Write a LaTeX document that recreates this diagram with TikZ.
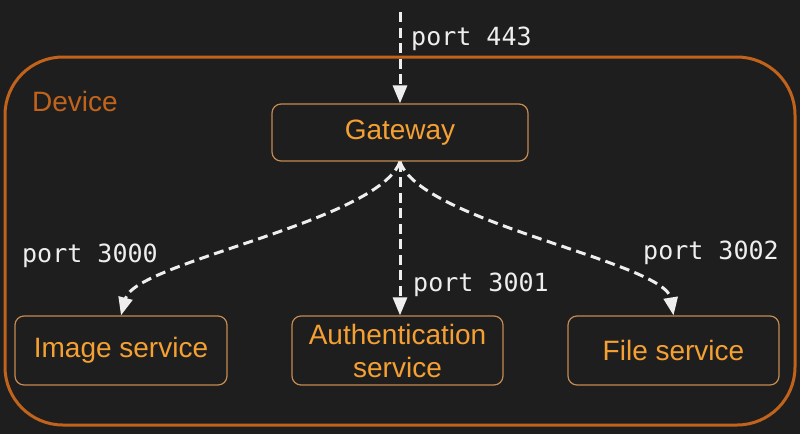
\documentclass[tikz,border=0pt]{standalone}
\usepackage{fontspec}
\setmainfont{Liberation Sans}
\newfontfamily\monofont{DejaVu Sans Mono}
\usetikzlibrary{arrows.meta}
\definecolor{bg}{HTML}{1E1E1E}
\definecolor{devcol}{HTML}{C2631C}
\definecolor{boxcol}{HTML}{C48A50}
\definecolor{txtcol}{HTML}{F5A033}
\definecolor{linecol}{HTML}{EEEEEE}
\tikzset{
  svcbox/.style={draw=boxcol, line width=1.2pt, rounded corners=9pt, text=txtcol,
    font=\fontsize{28}{33}\selectfont, align=center, inner sep=0pt},
  conn/.style={draw=linecol, line width=3pt, dash pattern=on 10pt off 5.5pt,
    -{Triangle[length=18pt,width=14pt]}},
  portlbl/.style={text=linecol, font=\monofont\fontsize{25}{28}\selectfont, inner sep=0pt, anchor=base west}
}
\begin{document}
\begin{tikzpicture}[x=1pt,y=-1pt]
\fill[bg] (0,0) rectangle (800,434);
\useasboundingbox (0,0) rectangle (800,434);
\draw[devcol, line width=3pt, rounded corners=58pt] (5,57) rectangle (795,425);
\node[text=devcol, font=\fontsize{28}{33}\selectfont, inner sep=0pt, anchor=base west] (dev) at (32,111.5) {Device};

\node[svcbox, minimum width=256pt, minimum height=57pt] (gw) at (400,132.5) {Gateway};
\node[svcbox, minimum width=212pt, minimum height=69pt] (img) at (121,350.5) {Image service};
\node[svcbox, minimum width=211pt, minimum height=69pt] (auth) at (397.5,350.5) {Authentication\\service};
\node[svcbox, minimum width=211pt, minimum height=69pt] (file) at (673.5,350.5) {File service};

\coordinate (top) at (400,12);
\draw[conn] (top) -- (gw.north);
\draw[conn] (gw.south) .. controls (378,222) and (135,262) .. (img.north);
\draw[conn] (gw.south) -- (gw.south |- auth.north);
\draw[conn] (gw.south) .. controls (420,222) and (665,262) .. (file.north);

\node[portlbl] (p443) at (411,45) {port 443};
\node[portlbl] (p3000) at (22,262.5) {port 3000};
\node[portlbl] (p3001) at (413,291.5) {port 3001};
\node[portlbl] (p3002) at (643,259) {port 3002};
\end{tikzpicture}
\end{document}
